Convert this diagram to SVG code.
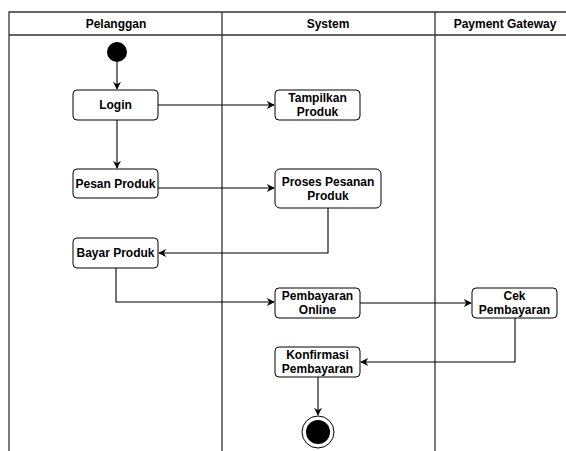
<svg xmlns="http://www.w3.org/2000/svg" width="566" height="451" viewBox="0 0 566 451">
<style>
.lane{fill:none;stroke:#333;stroke-width:1.3}
.hdr{font-family:"Liberation Sans",Arial,sans-serif;font-size:12px;font-weight:bold;fill:#000;text-anchor:middle}
.box{fill:#fff;stroke:#000;stroke-width:1}
.lbl{font-family:"Liberation Sans",Arial,sans-serif;font-size:12px;font-weight:bold;fill:#000;text-anchor:middle}
.c{fill:none;stroke:#000;stroke-width:1.1;marker-end:url(#ah)}
</style>
<defs>
<marker id="ah" viewBox="0 0 10 10" refX="9" refY="5" markerWidth="8" markerHeight="8" markerUnits="userSpaceOnUse" orient="auto">
<path d="M0,0 L10,5 L0,10 L3,5 z" fill="#000"/>
</marker>
</defs>
<rect width="566" height="451" fill="#fff"/>
<g id="lanes">
<path class="lane" d="M9,451 V12 H570 M9,35 H570 M222,12 V451 M435,12 V451"/>
<text class="hdr" x="116" y="28">Pelanggan</text>
<text class="hdr" x="328" y="28">System</text>
<text class="hdr" x="505" y="28">Payment Gateway</text>
</g>
<g id="connectors">
<path class="c" d="M117,62 V89"/>
<path class="c" d="M158,105 H274"/>
<path class="c" d="M117,120 V168"/>
<path class="c" d="M158,188 H274"/>
<path class="c" d="M328,208 V253 H159"/>
<path class="c" d="M116,268 V302 H274"/>
<path class="c" d="M360,303 H471"/>
<path class="c" d="M515,318 V362 H361"/>
<path class="c" d="M318,377 V415"/>
</g>
<g id="start"><circle cx="117" cy="52" r="10" fill="#000"/></g>
<g id="login"><rect class="box" x="73" y="90" width="85" height="30" rx="4"/><text class="lbl" x="115.5" y="109">Login</text></g>
<g id="tampilkan"><rect class="box" x="275" y="90" width="85" height="30" rx="4"/><text class="lbl" x="317.5" y="102">Tampilkan</text><text class="lbl" x="317.5" y="116">Produk</text></g>
<g id="pesan"><rect class="box" x="73" y="169" width="85" height="29" rx="4"/><text class="lbl" x="115.5" y="188">Pesan Produk</text></g>
<g id="proses"><rect class="box" x="275" y="169" width="106" height="39" rx="5"/><text class="lbl" x="328" y="186">Proses Pesanan</text><text class="lbl" x="328" y="200">Produk</text></g>
<g id="bayar"><rect class="box" x="73" y="238" width="85" height="30" rx="4"/><text class="lbl" x="115.5" y="257">Bayar Produk</text></g>
<g id="pembayaran"><rect class="box" x="275" y="288" width="85" height="30" rx="4"/><text class="lbl" x="317.5" y="300">Pembayaran</text><text class="lbl" x="317.5" y="314">Online</text></g>
<g id="cek"><rect class="box" x="472" y="288" width="85" height="30" rx="4"/><text class="lbl" x="514.5" y="300">Cek</text><text class="lbl" x="514.5" y="314">Pembayaran</text></g>
<g id="konfirmasi"><rect class="box" x="275" y="347" width="85" height="30" rx="4"/><text class="lbl" x="317.5" y="359">Konfirmasi</text><text class="lbl" x="317.5" y="373">Pembayaran</text></g>
<g id="end"><circle cx="318" cy="432" r="16" fill="#fff" stroke="#000" stroke-width="1"/><circle cx="318" cy="432" r="12" fill="#000"/></g>
</svg>
